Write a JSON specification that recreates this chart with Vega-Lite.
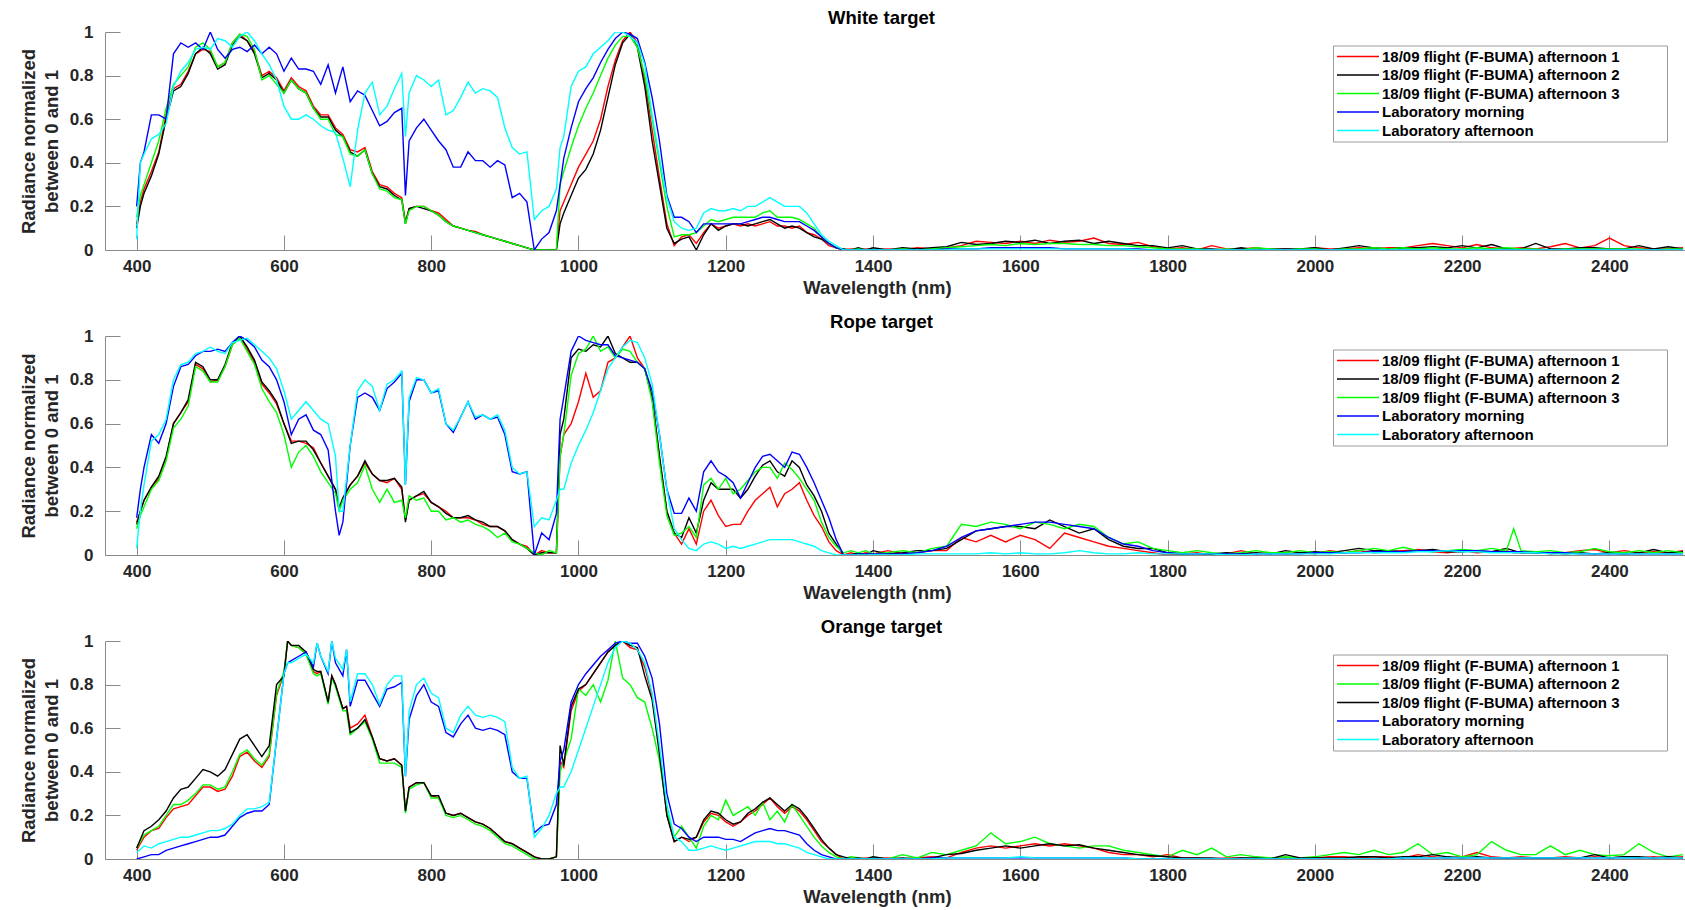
{
"$schema":"https://vega.github.io/schema/vega-lite/v6.json",
"background":"white",
"padding":{"left":19,"top":8,"right":0,"bottom":2},
"bounds":"flush",
"spacing":86,
"resolve":{"scale":{"color":"independent","x":"independent","y":"independent"},"legend":{"color":"independent"}},
"config":{
"font":"Liberation Sans",
"view":{"stroke":null},
"title":{"fontSize":18.5,"fontWeight":"bold","color":"#000000","font":"Liberation Sans","offset":-4,"dx":-14},
"axis":{"grid":false,"domainColor":"#8a8a8a","domainWidth":1,"tickColor":"#8a8a8a","tickSize":-15,"tickWidth":1,
"labelFont":"Liberation Sans","labelFontSize":17,"labelFontWeight":"bold","labelColor":"#262626",
"titleFont":"Liberation Sans","titleFontSize":18.5,"titleFontWeight":"bold","titleColor":"#262626"},
"axisX":{"labelPadding":23,"titlePadding":4,"format":"d"},
"axisY":{"labelPadding":27,"titlePadding":8,"titleLineHeight":23},
"legend":{"orient":"none","legendX":1228,"legendY":13.5,"title":null,"symbolType":"M-1,0H5","symbolSize":196,"symbolStrokeWidth":1.5,
"labelFont":"Liberation Sans","labelFontSize":15,"labelFontWeight":"bold","labelColor":"#000000","labelLimit":600,"labelOffset":30,
"rowPadding":2.5,"padding":3,"strokeColor":"#9a9a9a","fillColor":"#ffffff","cornerRadius":0}
},
"datasets":{
"white":[
{"x":400,"a":0.12,"b":0.1,"c":0.15,"m":0.2,"l":0.05},
{"x":405,"a":0.22,"b":0.2,"c":0.25,"m":0.4,"l":0.4},
{"x":410,"a":0.28,"b":0.26,"c":0.3,"m":0.45,"l":0.44},
{"x":420,"a":0.36,"b":0.34,"c":0.4,"m":0.62,"l":0.51},
{"x":430,"a":0.45,"b":0.44,"c":0.5,"m":0.62,"l":0.53},
{"x":440,"a":0.62,"b":0.6,"c":0.65,"m":0.6,"l":0.58},
{"x":450,"a":0.74,"b":0.73,"c":0.76,"m":0.9,"l":0.75},
{"x":460,"a":0.76,"b":0.75,"c":0.8,"m":0.95,"l":0.82},
{"x":470,"a":0.82,"b":0.81,"c":0.84,"m":0.93,"l":0.86},
{"x":480,"a":0.9,"b":0.9,"c":0.93,"m":0.95,"l":0.92},
{"x":490,"a":0.92,"b":0.93,"c":0.95,"m":0.92,"l":0.93},
{"x":500,"a":0.91,"b":0.9,"c":0.92,"m":1.0,"l":0.92},
{"x":510,"a":0.84,"b":0.83,"c":0.84,"m":0.92,"l":0.97},
{"x":520,"a":0.86,"b":0.85,"c":0.86,"m":0.88,"l":0.96},
{"x":530,"a":0.95,"b":0.94,"c":0.95,"m":0.92,"l":0.93},
{"x":540,"a":0.99,"b":0.98,"c":0.99,"m":0.93,"l":0.98},
{"x":550,"a":0.96,"b":0.96,"c":0.98,"m":0.91,"l":1.0},
{"x":560,"a":0.91,"b":0.9,"c":0.92,"m":0.94,"l":0.96},
{"x":570,"a":0.8,"b":0.79,"c":0.78,"m":0.9,"l":0.9},
{"x":580,"a":0.82,"b":0.81,"c":0.8,"m":0.93,"l":0.85},
{"x":590,"a":0.79,"b":0.78,"c":0.76,"m":0.9,"l":0.78},
{"x":600,"a":0.73,"b":0.72,"c":0.72,"m":0.82,"l":0.66},
{"x":610,"a":0.79,"b":0.78,"c":0.78,"m":0.88,"l":0.6},
{"x":620,"a":0.75,"b":0.74,"c":0.74,"m":0.83,"l":0.6},
{"x":630,"a":0.73,"b":0.72,"c":0.72,"m":0.83,"l":0.62},
{"x":640,"a":0.66,"b":0.65,"c":0.65,"m":0.82,"l":0.6},
{"x":650,"a":0.62,"b":0.61,"c":0.6,"m":0.76,"l":0.57},
{"x":660,"a":0.62,"b":0.61,"c":0.6,"m":0.85,"l":0.55},
{"x":670,"a":0.56,"b":0.55,"c":0.53,"m":0.72,"l":0.54},
{"x":680,"a":0.53,"b":0.52,"c":0.52,"m":0.84,"l":0.42},
{"x":690,"a":0.46,"b":0.45,"c":0.44,"m":0.68,"l":0.29},
{"x":700,"a":0.45,"b":0.43,"c":0.43,"m":0.73,"l":0.55},
{"x":710,"a":0.47,"b":0.46,"c":0.46,"m":0.71,"l":0.72},
{"x":720,"a":0.36,"b":0.35,"c":0.35,"m":0.64,"l":0.77},
{"x":730,"a":0.3,"b":0.29,"c":0.28,"m":0.57,"l":0.62},
{"x":740,"a":0.29,"b":0.28,"c":0.27,"m":0.59,"l":0.66},
{"x":750,"a":0.26,"b":0.25,"c":0.24,"m":0.63,"l":0.74},
{"x":760,"a":0.24,"b":0.23,"c":0.23,"m":0.65,"l":0.81},
{"x":765,"a":0.13,"b":0.12,"c":0.12,"m":0.25,"l":0.52},
{"x":770,"a":0.19,"b":0.19,"c":0.18,"m":0.5,"l":0.72},
{"x":780,"a":0.2,"b":0.2,"c":0.2,"m":0.56,"l":0.8},
{"x":790,"a":0.2,"b":0.19,"c":0.2,"m":0.6,"l":0.78},
{"x":800,"a":0.18,"b":0.18,"c":0.18,"m":0.55,"l":0.75},
{"x":810,"a":0.17,"b":0.16,"c":0.16,"m":0.5,"l":0.78},
{"x":820,"a":0.14,"b":0.13,"c":0.13,"m":0.46,"l":0.62},
{"x":830,"a":0.11,"b":0.11,"c":0.11,"m":0.38,"l":0.64},
{"x":840,"a":0.1,"b":0.1,"c":0.1,"m":0.38,"l":0.7},
{"x":850,"a":0.09,"b":0.09,"c":0.09,"m":0.45,"l":0.77},
{"x":860,"a":0.085,"b":0.08,"c":0.08,"m":0.41,"l":0.72},
{"x":870,"a":0.07,"b":0.07,"c":0.07,"m":0.41,"l":0.74},
{"x":880,"a":0.06,"b":0.06,"c":0.06,"m":0.38,"l":0.73},
{"x":890,"a":0.05,"b":0.05,"c":0.05,"m":0.41,"l":0.7},
{"x":900,"a":0.04,"b":0.04,"c":0.04,"m":0.39,"l":0.56},
{"x":910,"a":0.03,"b":0.03,"c":0.03,"m":0.24,"l":0.47},
{"x":920,"a":0.02,"b":0.02,"c":0.02,"m":0.26,"l":0.44},
{"x":930,"a":0.01,"b":0.01,"c":0.01,"m":0.22,"l":0.45},
{"x":940,"a":0.0,"b":0.0,"c":0.0,"m":0.0,"l":0.14},
{"x":950,"a":0.0,"b":0.0,"c":0.0,"m":0.05,"l":0.18},
{"x":960,"a":0.0,"b":0.0,"c":0.0,"m":0.08,"l":0.2},
{"x":970,"a":0.0,"b":0.0,"c":0.0,"m":0.18,"l":0.28},
{"x":975,"a":0.18,"b":0.12,"c":0.3,"m":0.3,"l":0.47},
{"x":980,"a":0.22,"b":0.17,"c":0.36,"m":0.42,"l":0.52},
{"x":990,"a":0.3,"b":0.25,"c":0.47,"m":0.56,"l":0.75},
{"x":1000,"a":0.38,"b":0.33,"c":0.57,"m":0.68,"l":0.82},
{"x":1010,"a":0.44,"b":0.37,"c":0.65,"m":0.74,"l":0.84},
{"x":1020,"a":0.5,"b":0.44,"c":0.72,"m":0.79,"l":0.9},
{"x":1030,"a":0.6,"b":0.55,"c":0.8,"m":0.86,"l":0.93},
{"x":1040,"a":0.75,"b":0.7,"c":0.88,"m":0.92,"l":0.96},
{"x":1050,"a":0.87,"b":0.85,"c":0.94,"m":0.97,"l":1.0},
{"x":1060,"a":0.96,"b":0.95,"c":0.98,"m":1.0,"l":1.0},
{"x":1070,"a":1.0,"b":0.99,"c":0.98,"m":0.99,"l":0.98},
{"x":1080,"a":0.95,"b":0.93,"c":0.93,"m":0.97,"l":0.95},
{"x":1090,"a":0.78,"b":0.75,"c":0.8,"m":0.86,"l":0.85},
{"x":1100,"a":0.55,"b":0.5,"c":0.6,"m":0.7,"l":0.62},
{"x":1110,"a":0.33,"b":0.3,"c":0.4,"m":0.5,"l":0.42},
{"x":1120,"a":0.12,"b":0.1,"c":0.2,"m":0.25,"l":0.24},
{"x":1130,"a":0.02,"b":0.03,"c":0.06,"m":0.15,"l":0.13},
{"x":1140,"a":0.06,"b":0.05,"c":0.07,"m":0.15,"l":0.1},
{"x":1150,"a":0.07,"b":0.06,"c":0.07,"m":0.13,"l":0.09},
{"x":1160,"a":0.03,"b":0.0,"c":0.08,"m":0.08,"l":0.1},
{"x":1170,"a":0.08,"b":0.07,"c":0.11,"m":0.12,"l":0.17},
{"x":1180,"a":0.12,"b":0.12,"c":0.14,"m":0.12,"l":0.19},
{"x":1190,"a":0.1,"b":0.09,"c":0.13,"m":0.12,"l":0.18},
{"x":1200,"a":0.11,"b":0.11,"c":0.14,"m":0.12,"l":0.18},
{"x":1210,"a":0.12,"b":0.12,"c":0.15,"m":0.12,"l":0.19},
{"x":1220,"a":0.11,"b":0.12,"c":0.15,"m":0.12,"l":0.18},
{"x":1230,"a":0.12,"b":0.11,"c":0.15,"m":0.13,"l":0.2},
{"x":1240,"a":0.11,"b":0.12,"c":0.15,"m":0.14,"l":0.2},
{"x":1250,"a":0.12,"b":0.13,"c":0.17,"m":0.15,"l":0.22},
{"x":1260,"a":0.13,"b":0.14,"c":0.18,"m":0.15,"l":0.24},
{"x":1270,"a":0.11,"b":0.12,"c":0.15,"m":0.14,"l":0.22},
{"x":1280,"a":0.11,"b":0.1,"c":0.15,"m":0.13,"l":0.2},
{"x":1290,"a":0.1,"b":0.11,"c":0.15,"m":0.13,"l":0.2},
{"x":1300,"a":0.11,"b":0.1,"c":0.14,"m":0.13,"l":0.2},
{"x":1310,"a":0.08,"b":0.08,"c":0.12,"m":0.11,"l":0.17},
{"x":1320,"a":0.07,"b":0.06,"c":0.1,"m":0.09,"l":0.12},
{"x":1330,"a":0.05,"b":0.05,"c":0.06,"m":0.06,"l":0.07},
{"x":1340,"a":0.02,"b":0.03,"c":0.03,"m":0.03,"l":0.04},
{"x":1350,"a":0.01,"b":0.01,"c":0.01,"m":0.01,"l":0.02},
{"x":1360,"a":0.0,"b":0.005,"c":0.0,"m":0.0,"l":0.0},
{"x":1370,"a":0.005,"b":0.0,"c":0.0,"m":0.0,"l":0.0},
{"x":1380,"a":0.0,"b":0.01,"c":0.005,"m":0.0,"l":0.0},
{"x":1390,"a":0.005,"b":0.0,"c":0.0,"m":0.0,"l":0.0},
{"x":1400,"a":0.0,"b":0.01,"c":0.0,"m":0.0,"l":0.0},
{"x":1420,"a":0.005,"b":0.0,"c":0.0,"m":0.0,"l":0.0},
{"x":1440,"a":0.0,"b":0.01,"c":0.005,"m":0.0,"l":0.0},
{"x":1460,"a":0.01,"b":0.005,"c":0.0,"m":0.0,"l":0.0},
{"x":1480,"a":0.005,"b":0.01,"c":0.005,"m":0.0,"l":0.0},
{"x":1500,"a":0.01,"b":0.015,"c":0.01,"m":0.005,"l":0.0},
{"x":1520,"a":0.02,"b":0.035,"c":0.015,"m":0.005,"l":0.005},
{"x":1540,"a":0.04,"b":0.025,"c":0.02,"m":0.005,"l":0.005},
{"x":1560,"a":0.035,"b":0.03,"c":0.025,"m":0.01,"l":0.005},
{"x":1580,"a":0.03,"b":0.04,"c":0.02,"m":0.01,"l":0.005},
{"x":1600,"a":0.04,"b":0.035,"c":0.03,"m":0.01,"l":0.005},
{"x":1620,"a":0.03,"b":0.045,"c":0.025,"m":0.01,"l":0.005},
{"x":1640,"a":0.045,"b":0.03,"c":0.03,"m":0.01,"l":0.005},
{"x":1660,"a":0.035,"b":0.04,"c":0.03,"m":0.005,"l":0.005},
{"x":1680,"a":0.04,"b":0.045,"c":0.025,"m":0.005,"l":0.005},
{"x":1700,"a":0.055,"b":0.03,"c":0.025,"m":0.005,"l":0.005},
{"x":1720,"a":0.03,"b":0.04,"c":0.02,"m":0.005,"l":0.005},
{"x":1740,"a":0.025,"b":0.03,"c":0.02,"m":0.005,"l":0.005},
{"x":1760,"a":0.035,"b":0.02,"c":0.015,"m":0.005,"l":0.0},
{"x":1780,"a":0.015,"b":0.02,"c":0.01,"m":0.0,"l":0.0},
{"x":1800,"a":0.005,"b":0.01,"c":0.005,"m":0.0,"l":0.0},
{"x":1820,"a":0.01,"b":0.02,"c":0.005,"m":0.0,"l":0.0},
{"x":1840,"a":0.0,"b":0.005,"c":0.005,"m":0.0,"l":0.0},
{"x":1860,"a":0.02,"b":0.005,"c":0.0,"m":0.0,"l":0.0},
{"x":1880,"a":0.005,"b":0.0,"c":0.005,"m":0.0,"l":0.0},
{"x":1900,"a":0.005,"b":0.01,"c":0.0,"m":0.0,"l":0.0},
{"x":1920,"a":0.01,"b":0.0,"c":0.01,"m":0.0,"l":0.0},
{"x":1940,"a":0.0,"b":0.005,"c":0.005,"m":0.0,"l":0.0},
{"x":1960,"a":0.005,"b":0.005,"c":0.0,"m":0.0,"l":0.0},
{"x":1980,"a":0.0,"b":0.005,"c":0.005,"m":0.0,"l":0.0},
{"x":2000,"a":0.01,"b":0.01,"c":0.005,"m":0.0,"l":0.0},
{"x":2020,"a":0.005,"b":0.0,"c":0.0,"m":0.0,"l":0.0},
{"x":2040,"a":0.005,"b":0.01,"c":0.005,"m":0.0,"l":0.0},
{"x":2060,"a":0.01,"b":0.02,"c":0.005,"m":0.0,"l":0.0},
{"x":2080,"a":0.005,"b":0.01,"c":0.01,"m":0.0,"l":0.0},
{"x":2100,"a":0.01,"b":0.005,"c":0.005,"m":0.0,"l":0.0},
{"x":2120,"a":0.01,"b":0.01,"c":0.01,"m":0.0,"l":0.0},
{"x":2140,"a":0.02,"b":0.01,"c":0.005,"m":0.0,"l":0.0},
{"x":2160,"a":0.03,"b":0.015,"c":0.01,"m":0.0,"l":0.0},
{"x":2180,"a":0.02,"b":0.01,"c":0.005,"m":0.0,"l":0.0},
{"x":2200,"a":0.01,"b":0.02,"c":0.005,"m":0.0,"l":0.0},
{"x":2220,"a":0.025,"b":0.01,"c":0.01,"m":0.0,"l":0.0},
{"x":2240,"a":0.01,"b":0.025,"c":0.005,"m":0.0,"l":0.0},
{"x":2260,"a":0.005,"b":0.005,"c":0.01,"m":0.0,"l":0.0},
{"x":2280,"a":0.01,"b":0.005,"c":0.005,"m":0.0,"l":0.0},
{"x":2300,"a":0.005,"b":0.03,"c":0.005,"m":0.0,"l":0.0},
{"x":2320,"a":0.015,"b":0.005,"c":0.0,"m":0.0,"l":0.0},
{"x":2340,"a":0.03,"b":0.005,"c":0.005,"m":0.0,"l":0.0},
{"x":2360,"a":0.01,"b":0.01,"c":0.005,"m":0.0,"l":0.0},
{"x":2380,"a":0.02,"b":0.01,"c":0.005,"m":0.0,"l":0.0},
{"x":2400,"a":0.055,"b":0.005,"c":0.005,"m":0.0,"l":0.0},
{"x":2420,"a":0.02,"b":0.005,"c":0.005,"m":0.0,"l":0.0},
{"x":2440,"a":0.01,"b":0.02,"c":0.005,"m":0.0,"l":0.0},
{"x":2460,"a":0.005,"b":0.005,"c":0.0,"m":0.0,"l":0.0},
{"x":2480,"a":0.005,"b":0.015,"c":0.005,"m":0.0,"l":0.0},
{"x":2500,"a":0.01,"b":0.005,"c":0.005,"m":0.0,"l":0.0}
],
"rope":[
{"x":400,"a":0.15,"b":0.14,"c":0.12,"m":0.17,"l":0.03},
{"x":405,"a":0.2,"b":0.2,"c":0.18,"m":0.3,"l":0.2},
{"x":410,"a":0.25,"b":0.25,"c":0.22,"m":0.4,"l":0.32},
{"x":420,"a":0.31,"b":0.31,"c":0.3,"m":0.55,"l":0.52},
{"x":430,"a":0.35,"b":0.36,"c":0.34,"m":0.51,"l":0.55},
{"x":440,"a":0.44,"b":0.45,"c":0.43,"m":0.6,"l":0.62},
{"x":450,"a":0.6,"b":0.6,"c":0.58,"m":0.77,"l":0.8},
{"x":460,"a":0.65,"b":0.65,"c":0.62,"m":0.86,"l":0.87},
{"x":470,"a":0.7,"b":0.71,"c":0.68,"m":0.87,"l":0.88},
{"x":480,"a":0.87,"b":0.88,"c":0.86,"m":0.91,"l":0.92},
{"x":490,"a":0.85,"b":0.86,"c":0.84,"m":0.93,"l":0.93},
{"x":500,"a":0.79,"b":0.8,"c":0.79,"m":0.93,"l":0.95},
{"x":510,"a":0.8,"b":0.8,"c":0.79,"m":0.94,"l":0.93},
{"x":520,"a":0.86,"b":0.87,"c":0.86,"m":0.93,"l":0.92},
{"x":530,"a":0.96,"b":0.97,"c":0.96,"m":0.97,"l":0.97},
{"x":540,"a":1.0,"b":1.0,"c":0.99,"m":1.0,"l":0.98},
{"x":550,"a":0.94,"b":0.95,"c":0.93,"m":0.98,"l":0.99},
{"x":560,"a":0.88,"b":0.89,"c":0.87,"m":0.95,"l":0.96},
{"x":570,"a":0.78,"b":0.79,"c":0.76,"m":0.89,"l":0.93},
{"x":580,"a":0.74,"b":0.75,"c":0.7,"m":0.86,"l":0.9},
{"x":590,"a":0.69,"b":0.7,"c":0.65,"m":0.8,"l":0.85},
{"x":600,"a":0.6,"b":0.6,"c":0.55,"m":0.7,"l":0.75},
{"x":610,"a":0.52,"b":0.51,"c":0.4,"m":0.55,"l":0.62},
{"x":620,"a":0.52,"b":0.52,"c":0.47,"m":0.62,"l":0.66},
{"x":630,"a":0.51,"b":0.52,"c":0.5,"m":0.64,"l":0.7},
{"x":640,"a":0.49,"b":0.48,"c":0.45,"m":0.57,"l":0.66},
{"x":650,"a":0.42,"b":0.42,"c":0.38,"m":0.55,"l":0.62},
{"x":660,"a":0.36,"b":0.36,"c":0.33,"m":0.48,"l":0.6},
{"x":670,"a":0.3,"b":0.3,"c":0.28,"m":0.2,"l":0.45},
{"x":675,"a":0.22,"b":0.21,"c":0.2,"m":0.09,"l":0.2},
{"x":680,"a":0.26,"b":0.26,"c":0.25,"m":0.15,"l":0.2},
{"x":690,"a":0.32,"b":0.32,"c":0.3,"m":0.5,"l":0.5},
{"x":700,"a":0.36,"b":0.36,"c":0.33,"m":0.72,"l":0.75},
{"x":710,"a":0.42,"b":0.43,"c":0.41,"m":0.74,"l":0.8},
{"x":720,"a":0.37,"b":0.37,"c":0.3,"m":0.72,"l":0.77},
{"x":730,"a":0.34,"b":0.34,"c":0.24,"m":0.66,"l":0.66},
{"x":740,"a":0.33,"b":0.34,"c":0.3,"m":0.76,"l":0.78},
{"x":750,"a":0.35,"b":0.35,"c":0.24,"m":0.79,"l":0.8},
{"x":760,"a":0.3,"b":0.31,"c":0.25,"m":0.83,"l":0.84},
{"x":765,"a":0.16,"b":0.15,"c":0.17,"m":0.32,"l":0.32},
{"x":770,"a":0.25,"b":0.25,"c":0.27,"m":0.7,"l":0.72},
{"x":780,"a":0.27,"b":0.27,"c":0.25,"m":0.8,"l":0.81},
{"x":790,"a":0.28,"b":0.29,"c":0.26,"m":0.8,"l":0.8},
{"x":800,"a":0.24,"b":0.24,"c":0.2,"m":0.74,"l":0.74},
{"x":810,"a":0.22,"b":0.22,"c":0.2,"m":0.75,"l":0.76},
{"x":820,"a":0.2,"b":0.19,"c":0.16,"m":0.6,"l":0.6},
{"x":830,"a":0.17,"b":0.17,"c":0.17,"m":0.56,"l":0.57},
{"x":840,"a":0.17,"b":0.17,"c":0.15,"m":0.63,"l":0.63},
{"x":850,"a":0.17,"b":0.18,"c":0.16,"m":0.7,"l":0.7},
{"x":860,"a":0.16,"b":0.16,"c":0.14,"m":0.62,"l":0.63},
{"x":870,"a":0.14,"b":0.15,"c":0.13,"m":0.64,"l":0.64},
{"x":880,"a":0.13,"b":0.13,"c":0.11,"m":0.62,"l":0.62},
{"x":890,"a":0.13,"b":0.13,"c":0.08,"m":0.63,"l":0.64},
{"x":900,"a":0.11,"b":0.11,"c":0.1,"m":0.55,"l":0.57},
{"x":910,"a":0.07,"b":0.07,"c":0.06,"m":0.38,"l":0.4},
{"x":920,"a":0.05,"b":0.05,"c":0.05,"m":0.37,"l":0.37},
{"x":930,"a":0.04,"b":0.03,"c":0.03,"m":0.38,"l":0.38},
{"x":940,"a":0.0,"b":0.0,"c":0.01,"m":0.0,"l":0.13},
{"x":950,"a":0.02,"b":0.01,"c":0.0,"m":0.1,"l":0.17},
{"x":960,"a":0.01,"b":0.01,"c":0.02,"m":0.07,"l":0.16},
{"x":970,"a":0.01,"b":0.01,"c":0.01,"m":0.19,"l":0.25},
{"x":975,"a":0.45,"b":0.55,"c":0.45,"m":0.62,"l":0.3},
{"x":980,"a":0.55,"b":0.62,"c":0.55,"m":0.72,"l":0.3},
{"x":990,"a":0.6,"b":0.9,"c":0.82,"m":0.93,"l":0.42},
{"x":1000,"a":0.7,"b":0.94,"c":0.92,"m":1.0,"l":0.5},
{"x":1010,"a":0.83,"b":0.93,"c":0.94,"m":0.98,"l":0.57},
{"x":1020,"a":0.72,"b":0.96,"c":1.0,"m":0.97,"l":0.65},
{"x":1030,"a":0.75,"b":0.95,"c":0.93,"m":0.96,"l":0.75},
{"x":1040,"a":0.88,"b":1.0,"c":0.95,"m":0.96,"l":0.85},
{"x":1050,"a":0.9,"b":0.92,"c":0.9,"m":0.91,"l":0.9},
{"x":1060,"a":0.95,"b":0.9,"c":0.94,"m":0.9,"l":0.95},
{"x":1070,"a":1.0,"b":0.88,"c":0.93,"m":0.89,"l":0.98},
{"x":1080,"a":0.9,"b":0.88,"c":0.88,"m":0.88,"l":0.97},
{"x":1090,"a":0.85,"b":0.85,"c":0.85,"m":0.85,"l":0.9},
{"x":1100,"a":0.72,"b":0.72,"c":0.7,"m":0.75,"l":0.78},
{"x":1110,"a":0.45,"b":0.45,"c":0.42,"m":0.55,"l":0.55},
{"x":1120,"a":0.2,"b":0.2,"c":0.18,"m":0.3,"l":0.3},
{"x":1130,"a":0.1,"b":0.1,"c":0.09,"m":0.19,"l":0.12},
{"x":1140,"a":0.05,"b":0.08,"c":0.1,"m":0.19,"l":0.07},
{"x":1150,"a":0.12,"b":0.17,"c":0.13,"m":0.26,"l":0.03},
{"x":1160,"a":0.05,"b":0.1,"c":0.08,"m":0.2,"l":0.02},
{"x":1170,"a":0.2,"b":0.25,"c":0.32,"m":0.38,"l":0.05},
{"x":1180,"a":0.25,"b":0.33,"c":0.35,"m":0.43,"l":0.06},
{"x":1190,"a":0.18,"b":0.3,"c":0.3,"m":0.38,"l":0.05},
{"x":1200,"a":0.13,"b":0.3,"c":0.35,"m":0.36,"l":0.03},
{"x":1210,"a":0.14,"b":0.3,"c":0.28,"m":0.33,"l":0.04},
{"x":1220,"a":0.14,"b":0.26,"c":0.3,"m":0.26,"l":0.03},
{"x":1230,"a":0.2,"b":0.3,"c":0.34,"m":0.33,"l":0.04},
{"x":1240,"a":0.25,"b":0.36,"c":0.38,"m":0.4,"l":0.05},
{"x":1250,"a":0.28,"b":0.41,"c":0.4,"m":0.45,"l":0.06},
{"x":1260,"a":0.31,"b":0.43,"c":0.4,"m":0.46,"l":0.07},
{"x":1270,"a":0.22,"b":0.38,"c":0.35,"m":0.43,"l":0.07},
{"x":1280,"a":0.28,"b":0.36,"c":0.42,"m":0.4,"l":0.07},
{"x":1290,"a":0.3,"b":0.43,"c":0.39,"m":0.47,"l":0.07},
{"x":1300,"a":0.33,"b":0.4,"c":0.35,"m":0.46,"l":0.06},
{"x":1310,"a":0.25,"b":0.32,"c":0.3,"m":0.4,"l":0.05},
{"x":1320,"a":0.18,"b":0.27,"c":0.25,"m":0.33,"l":0.04},
{"x":1330,"a":0.13,"b":0.2,"c":0.15,"m":0.25,"l":0.02},
{"x":1340,"a":0.06,"b":0.1,"c":0.08,"m":0.17,"l":0.01},
{"x":1350,"a":0.02,"b":0.05,"c":0.04,"m":0.07,"l":0.0},
{"x":1360,"a":0.0,"b":0.0,"c":0.01,"m":0.0,"l":0.0},
{"x":1370,"a":0.01,"b":0.0,"c":0.02,"m":0.0,"l":0.0},
{"x":1380,"a":0.0,"b":0.01,"c":0.01,"m":0.005,"l":0.0},
{"x":1390,"a":0.01,"b":0.0,"c":0.02,"m":0.005,"l":0.0},
{"x":1400,"a":0.005,"b":0.02,"c":0.005,"m":0.005,"l":0.0},
{"x":1420,"a":0.02,"b":0.005,"c":0.01,"m":0.005,"l":0.0},
{"x":1440,"a":0.005,"b":0.01,"c":0.02,"m":0.005,"l":0.0},
{"x":1460,"a":0.01,"b":0.02,"c":0.01,"m":0.01,"l":0.005},
{"x":1480,"a":0.02,"b":0.02,"c":0.03,"m":0.02,"l":0.005},
{"x":1500,"a":0.02,"b":0.03,"c":0.04,"m":0.04,"l":0.005},
{"x":1520,"a":0.08,"b":0.07,"c":0.14,"m":0.08,"l":0.005},
{"x":1540,"a":0.06,"b":0.11,"c":0.13,"m":0.11,"l":0.005},
{"x":1560,"a":0.09,"b":0.12,"c":0.15,"m":0.12,"l":0.01},
{"x":1580,"a":0.06,"b":0.13,"c":0.14,"m":0.13,"l":0.005},
{"x":1600,"a":0.09,"b":0.13,"c":0.12,"m":0.14,"l":0.01},
{"x":1620,"a":0.07,"b":0.12,"c":0.15,"m":0.15,"l":0.005},
{"x":1640,"a":0.03,"b":0.16,"c":0.14,"m":0.15,"l":0.005},
{"x":1660,"a":0.1,"b":0.13,"c":0.12,"m":0.14,"l":0.01},
{"x":1680,"a":0.08,"b":0.1,"c":0.14,"m":0.13,"l":0.02},
{"x":1700,"a":0.06,"b":0.12,"c":0.13,"m":0.12,"l":0.01},
{"x":1720,"a":0.04,"b":0.07,"c":0.08,"m":0.08,"l":0.005},
{"x":1740,"a":0.03,"b":0.04,"c":0.05,"m":0.05,"l":0.005},
{"x":1760,"a":0.02,"b":0.03,"c":0.06,"m":0.04,"l":0.01},
{"x":1780,"a":0.01,"b":0.03,"c":0.03,"m":0.02,"l":0.005},
{"x":1800,"a":0.0,"b":0.01,"c":0.02,"m":0.01,"l":0.005},
{"x":1820,"a":0.005,"b":0.005,"c":0.01,"m":0.005,"l":0.005},
{"x":1840,"a":0.01,"b":0.005,"c":0.02,"m":0.005,"l":0.005},
{"x":1860,"a":0.0,"b":0.005,"c":0.01,"m":0.005,"l":0.005},
{"x":1880,"a":0.005,"b":0.01,"c":0.005,"m":0.005,"l":0.0},
{"x":1900,"a":0.02,"b":0.005,"c":0.01,"m":0.005,"l":0.0},
{"x":1920,"a":0.005,"b":0.01,"c":0.02,"m":0.005,"l":0.005},
{"x":1940,"a":0.01,"b":0.005,"c":0.01,"m":0.005,"l":0.005},
{"x":1960,"a":0.005,"b":0.02,"c":0.01,"m":0.005,"l":0.005},
{"x":1980,"a":0.01,"b":0.01,"c":0.02,"m":0.005,"l":0.005},
{"x":2000,"a":0.005,"b":0.015,"c":0.01,"m":0.01,"l":0.005},
{"x":2020,"a":0.02,"b":0.01,"c":0.015,"m":0.01,"l":0.005},
{"x":2040,"a":0.01,"b":0.02,"c":0.01,"m":0.01,"l":0.01},
{"x":2060,"a":0.02,"b":0.03,"c":0.02,"m":0.01,"l":0.01},
{"x":2080,"a":0.01,"b":0.02,"c":0.03,"m":0.015,"l":0.01},
{"x":2100,"a":0.015,"b":0.02,"c":0.02,"m":0.015,"l":0.01},
{"x":2120,"a":0.02,"b":0.015,"c":0.035,"m":0.015,"l":0.01},
{"x":2140,"a":0.025,"b":0.02,"c":0.02,"m":0.02,"l":0.015},
{"x":2160,"a":0.015,"b":0.025,"c":0.015,"m":0.02,"l":0.015},
{"x":2180,"a":0.01,"b":0.015,"c":0.02,"m":0.02,"l":0.02},
{"x":2200,"a":0.02,"b":0.015,"c":0.025,"m":0.02,"l":0.015},
{"x":2220,"a":0.01,"b":0.02,"c":0.02,"m":0.02,"l":0.015},
{"x":2240,"a":0.015,"b":0.015,"c":0.03,"m":0.015,"l":0.01},
{"x":2260,"a":0.02,"b":0.03,"c":0.02,"m":0.015,"l":0.01},
{"x":2270,"a":0.01,"b":0.02,"c":0.12,"m":0.015,"l":0.01},
{"x":2280,"a":0.01,"b":0.01,"c":0.02,"m":0.015,"l":0.01},
{"x":2300,"a":0.015,"b":0.01,"c":0.015,"m":0.01,"l":0.01},
{"x":2320,"a":0.005,"b":0.01,"c":0.02,"m":0.01,"l":0.005},
{"x":2340,"a":0.01,"b":0.005,"c":0.01,"m":0.01,"l":0.005},
{"x":2360,"a":0.02,"b":0.01,"c":0.015,"m":0.005,"l":0.005},
{"x":2380,"a":0.025,"b":0.005,"c":0.03,"m":0.005,"l":0.005},
{"x":2400,"a":0.01,"b":0.01,"c":0.015,"m":0.005,"l":0.005},
{"x":2420,"a":0.02,"b":0.005,"c":0.01,"m":0.005,"l":0.005},
{"x":2440,"a":0.01,"b":0.01,"c":0.02,"m":0.005,"l":0.005},
{"x":2460,"a":0.015,"b":0.025,"c":0.01,"m":0.005,"l":0.005},
{"x":2480,"a":0.01,"b":0.01,"c":0.02,"m":0.005,"l":0.005},
{"x":2500,"a":0.02,"b":0.015,"c":0.01,"m":0.005,"l":0.005}
],
"orange":[
{"x":400,"a":0.04,"b":0.05,"c":0.05,"m":0.0,"l":0.03},
{"x":410,"a":0.1,"b":0.11,"c":0.13,"m":0.01,"l":0.06},
{"x":420,"a":0.13,"b":0.13,"c":0.15,"m":0.02,"l":0.05},
{"x":430,"a":0.14,"b":0.15,"c":0.18,"m":0.02,"l":0.07},
{"x":440,"a":0.19,"b":0.2,"c":0.22,"m":0.04,"l":0.08},
{"x":450,"a":0.23,"b":0.25,"c":0.28,"m":0.05,"l":0.09},
{"x":460,"a":0.24,"b":0.25,"c":0.32,"m":0.06,"l":0.1},
{"x":470,"a":0.25,"b":0.27,"c":0.33,"m":0.07,"l":0.1},
{"x":480,"a":0.29,"b":0.3,"c":0.37,"m":0.08,"l":0.11},
{"x":490,"a":0.33,"b":0.34,"c":0.41,"m":0.09,"l":0.12},
{"x":500,"a":0.33,"b":0.34,"c":0.4,"m":0.1,"l":0.13},
{"x":510,"a":0.31,"b":0.32,"c":0.38,"m":0.1,"l":0.13},
{"x":520,"a":0.32,"b":0.33,"c":0.41,"m":0.11,"l":0.14},
{"x":530,"a":0.38,"b":0.4,"c":0.48,"m":0.15,"l":0.16},
{"x":540,"a":0.47,"b":0.48,"c":0.55,"m":0.19,"l":0.2},
{"x":550,"a":0.49,"b":0.5,"c":0.57,"m":0.21,"l":0.23},
{"x":560,"a":0.45,"b":0.46,"c":0.52,"m":0.22,"l":0.23},
{"x":570,"a":0.42,"b":0.43,"c":0.47,"m":0.22,"l":0.24},
{"x":580,"a":0.47,"b":0.48,"c":0.52,"m":0.25,"l":0.26},
{"x":590,"a":0.75,"b":0.76,"c":0.8,"m":0.55,"l":0.55},
{"x":600,"a":0.85,"b":0.86,"c":0.84,"m":0.85,"l":0.85},
{"x":605,"a":1.0,"b":1.0,"c":1.0,"m":0.9,"l":0.9},
{"x":610,"a":0.98,"b":0.98,"c":0.98,"m":0.91,"l":0.9},
{"x":620,"a":0.97,"b":0.97,"c":0.98,"m":0.93,"l":0.92},
{"x":630,"a":0.94,"b":0.94,"c":0.95,"m":0.95,"l":0.94},
{"x":640,"a":0.86,"b":0.85,"c":0.87,"m":0.88,"l":0.9},
{"x":645,"a":0.85,"b":0.84,"c":0.86,"m":0.99,"l":0.99},
{"x":650,"a":0.86,"b":0.85,"c":0.86,"m":0.93,"l":0.93},
{"x":660,"a":0.72,"b":0.71,"c":0.72,"m":0.85,"l":0.86},
{"x":665,"a":0.84,"b":0.83,"c":0.84,"m":1.0,"l":1.0},
{"x":670,"a":0.8,"b":0.79,"c":0.8,"m":0.9,"l":0.92},
{"x":680,"a":0.69,"b":0.68,"c":0.69,"m":0.84,"l":0.87},
{"x":685,"a":0.7,"b":0.68,"c":0.7,"m":0.96,"l":0.96},
{"x":690,"a":0.6,"b":0.57,"c":0.58,"m":0.7,"l":0.72},
{"x":700,"a":0.62,"b":0.6,"c":0.6,"m":0.82,"l":0.85},
{"x":710,"a":0.66,"b":0.63,"c":0.64,"m":0.82,"l":0.85},
{"x":720,"a":0.56,"b":0.55,"c":0.56,"m":0.76,"l":0.8},
{"x":730,"a":0.46,"b":0.44,"c":0.46,"m":0.7,"l":0.71},
{"x":740,"a":0.45,"b":0.44,"c":0.45,"m":0.78,"l":0.8},
{"x":750,"a":0.46,"b":0.44,"c":0.46,"m":0.79,"l":0.84},
{"x":760,"a":0.43,"b":0.42,"c":0.43,"m":0.81,"l":0.84},
{"x":765,"a":0.22,"b":0.21,"c":0.22,"m":0.38,"l":0.38},
{"x":770,"a":0.33,"b":0.32,"c":0.33,"m":0.64,"l":0.68},
{"x":780,"a":0.35,"b":0.34,"c":0.35,"m":0.75,"l":0.8},
{"x":790,"a":0.35,"b":0.35,"c":0.35,"m":0.8,"l":0.83},
{"x":800,"a":0.29,"b":0.28,"c":0.29,"m":0.72,"l":0.76},
{"x":810,"a":0.28,"b":0.28,"c":0.29,"m":0.7,"l":0.74},
{"x":820,"a":0.21,"b":0.2,"c":0.21,"m":0.58,"l":0.6},
{"x":830,"a":0.2,"b":0.19,"c":0.2,"m":0.56,"l":0.58},
{"x":840,"a":0.21,"b":0.2,"c":0.21,"m":0.62,"l":0.66},
{"x":850,"a":0.19,"b":0.18,"c":0.19,"m":0.66,"l":0.7},
{"x":860,"a":0.17,"b":0.16,"c":0.17,"m":0.6,"l":0.66},
{"x":870,"a":0.16,"b":0.15,"c":0.16,"m":0.59,"l":0.65},
{"x":880,"a":0.14,"b":0.13,"c":0.14,"m":0.6,"l":0.66},
{"x":890,"a":0.11,"b":0.1,"c":0.11,"m":0.59,"l":0.65},
{"x":900,"a":0.08,"b":0.07,"c":0.08,"m":0.57,"l":0.63},
{"x":910,"a":0.07,"b":0.06,"c":0.07,"m":0.4,"l":0.42},
{"x":920,"a":0.05,"b":0.04,"c":0.05,"m":0.37,"l":0.37},
{"x":930,"a":0.03,"b":0.02,"c":0.03,"m":0.37,"l":0.38},
{"x":940,"a":0.01,"b":0.0,"c":0.01,"m":0.12,"l":0.1},
{"x":950,"a":0.0,"b":0.0,"c":0.0,"m":0.15,"l":0.14},
{"x":960,"a":0.0,"b":0.0,"c":0.0,"m":0.16,"l":0.2},
{"x":970,"a":0.01,"b":0.01,"c":0.01,"m":0.25,"l":0.3},
{"x":975,"a":0.45,"b":0.4,"c":0.52,"m":0.45,"l":0.33},
{"x":980,"a":0.42,"b":0.45,"c":0.43,"m":0.5,"l":0.33},
{"x":990,"a":0.68,"b":0.55,"c":0.7,"m":0.72,"l":0.4},
{"x":1000,"a":0.77,"b":0.78,"c":0.78,"m":0.8,"l":0.5},
{"x":1010,"a":0.8,"b":0.75,"c":0.8,"m":0.85,"l":0.6},
{"x":1020,"a":0.85,"b":0.8,"c":0.85,"m":0.89,"l":0.7},
{"x":1030,"a":0.9,"b":0.72,"c":0.9,"m":0.93,"l":0.8},
{"x":1040,"a":0.95,"b":0.82,"c":0.95,"m":0.96,"l":0.9},
{"x":1050,"a":0.98,"b":1.0,"c":0.98,"m":0.99,"l":0.97},
{"x":1060,"a":1.0,"b":0.83,"c":1.0,"m":1.0,"l":1.0},
{"x":1070,"a":0.97,"b":0.8,"c":0.98,"m":0.99,"l":0.99},
{"x":1080,"a":0.96,"b":0.74,"c":0.97,"m":0.99,"l":0.96},
{"x":1090,"a":0.88,"b":0.72,"c":0.84,"m":0.93,"l":0.9},
{"x":1100,"a":0.75,"b":0.6,"c":0.73,"m":0.83,"l":0.76},
{"x":1110,"a":0.5,"b":0.45,"c":0.48,"m":0.62,"l":0.52},
{"x":1120,"a":0.2,"b":0.22,"c":0.2,"m":0.3,"l":0.25},
{"x":1130,"a":0.08,"b":0.1,"c":0.08,"m":0.16,"l":0.1},
{"x":1140,"a":0.1,"b":0.15,"c":0.1,"m":0.14,"l":0.08},
{"x":1150,"a":0.08,"b":0.1,"c":0.09,"m":0.1,"l":0.04},
{"x":1160,"a":0.1,"b":0.05,"c":0.1,"m":0.08,"l":0.04},
{"x":1170,"a":0.17,"b":0.15,"c":0.18,"m":0.1,"l":0.05},
{"x":1180,"a":0.21,"b":0.2,"c":0.22,"m":0.1,"l":0.06},
{"x":1190,"a":0.2,"b":0.18,"c":0.21,"m":0.1,"l":0.05},
{"x":1200,"a":0.17,"b":0.27,"c":0.18,"m":0.09,"l":0.04},
{"x":1210,"a":0.15,"b":0.2,"c":0.16,"m":0.09,"l":0.05},
{"x":1220,"a":0.17,"b":0.22,"c":0.17,"m":0.08,"l":0.06},
{"x":1230,"a":0.2,"b":0.24,"c":0.21,"m":0.1,"l":0.07},
{"x":1240,"a":0.22,"b":0.2,"c":0.23,"m":0.12,"l":0.08},
{"x":1250,"a":0.25,"b":0.26,"c":0.26,"m":0.13,"l":0.08},
{"x":1260,"a":0.28,"b":0.18,"c":0.28,"m":0.14,"l":0.08},
{"x":1270,"a":0.24,"b":0.22,"c":0.25,"m":0.13,"l":0.07},
{"x":1280,"a":0.21,"b":0.17,"c":0.22,"m":0.13,"l":0.07},
{"x":1290,"a":0.24,"b":0.25,"c":0.25,"m":0.12,"l":0.06},
{"x":1300,"a":0.22,"b":0.2,"c":0.23,"m":0.11,"l":0.05},
{"x":1310,"a":0.18,"b":0.15,"c":0.19,"m":0.07,"l":0.03},
{"x":1320,"a":0.13,"b":0.1,"c":0.14,"m":0.04,"l":0.02},
{"x":1330,"a":0.08,"b":0.06,"c":0.09,"m":0.02,"l":0.01},
{"x":1340,"a":0.05,"b":0.03,"c":0.05,"m":0.01,"l":0.0},
{"x":1350,"a":0.02,"b":0.01,"c":0.02,"m":0.0,"l":0.0},
{"x":1360,"a":0.0,"b":0.0,"c":0.01,"m":0.0,"l":0.0},
{"x":1370,"a":0.005,"b":0.01,"c":0.0,"m":0.0,"l":0.0},
{"x":1380,"a":0.0,"b":0.005,"c":0.005,"m":0.0,"l":0.0},
{"x":1390,"a":0.005,"b":0.0,"c":0.0,"m":0.0,"l":0.0},
{"x":1400,"a":0.0,"b":0.005,"c":0.01,"m":0.0,"l":0.0},
{"x":1420,"a":0.005,"b":0.0,"c":0.0,"m":0.0,"l":0.0},
{"x":1440,"a":0.0,"b":0.02,"c":0.005,"m":0.0,"l":0.0},
{"x":1460,"a":0.005,"b":0.005,"c":0.0,"m":0.0,"l":0.0},
{"x":1480,"a":0.01,"b":0.03,"c":0.005,"m":0.005,"l":0.0},
{"x":1500,"a":0.005,"b":0.02,"c":0.02,"m":0.005,"l":0.005},
{"x":1520,"a":0.03,"b":0.04,"c":0.025,"m":0.005,"l":0.005},
{"x":1540,"a":0.05,"b":0.06,"c":0.04,"m":0.005,"l":0.005},
{"x":1560,"a":0.06,"b":0.12,"c":0.05,"m":0.005,"l":0.005},
{"x":1580,"a":0.05,"b":0.07,"c":0.06,"m":0.005,"l":0.005},
{"x":1600,"a":0.06,"b":0.08,"c":0.05,"m":0.005,"l":0.01},
{"x":1620,"a":0.07,"b":0.1,"c":0.06,"m":0.005,"l":0.005},
{"x":1640,"a":0.06,"b":0.07,"c":0.07,"m":0.005,"l":0.005},
{"x":1660,"a":0.07,"b":0.06,"c":0.06,"m":0.005,"l":0.005},
{"x":1680,"a":0.06,"b":0.05,"c":0.065,"m":0.005,"l":0.005},
{"x":1700,"a":0.05,"b":0.06,"c":0.05,"m":0.005,"l":0.005},
{"x":1720,"a":0.03,"b":0.06,"c":0.04,"m":0.005,"l":0.005},
{"x":1740,"a":0.02,"b":0.04,"c":0.03,"m":0.005,"l":0.005},
{"x":1760,"a":0.02,"b":0.03,"c":0.02,"m":0.0,"l":0.0},
{"x":1780,"a":0.01,"b":0.02,"c":0.015,"m":0.0,"l":0.0},
{"x":1800,"a":0.02,"b":0.01,"c":0.01,"m":0.0,"l":0.0},
{"x":1820,"a":0.005,"b":0.04,"c":0.005,"m":0.0,"l":0.0},
{"x":1840,"a":0.005,"b":0.02,"c":0.005,"m":0.0,"l":0.0},
{"x":1860,"a":0.0,"b":0.05,"c":0.005,"m":0.0,"l":0.0},
{"x":1880,"a":0.005,"b":0.01,"c":0.0,"m":0.0,"l":0.0},
{"x":1900,"a":0.005,"b":0.02,"c":0.005,"m":0.0,"l":0.0},
{"x":1920,"a":0.0,"b":0.01,"c":0.005,"m":0.0,"l":0.0},
{"x":1940,"a":0.005,"b":0.005,"c":0.0,"m":0.0,"l":0.0},
{"x":1960,"a":0.005,"b":0.01,"c":0.02,"m":0.0,"l":0.0},
{"x":1980,"a":0.0,"b":0.005,"c":0.005,"m":0.0,"l":0.0},
{"x":2000,"a":0.005,"b":0.01,"c":0.005,"m":0.0,"l":0.0},
{"x":2020,"a":0.01,"b":0.02,"c":0.005,"m":0.0,"l":0.0},
{"x":2040,"a":0.01,"b":0.03,"c":0.005,"m":0.0,"l":0.0},
{"x":2060,"a":0.005,"b":0.02,"c":0.01,"m":0.0,"l":0.0},
{"x":2080,"a":0.01,"b":0.04,"c":0.01,"m":0.0,"l":0.0},
{"x":2100,"a":0.01,"b":0.02,"c":0.005,"m":0.0,"l":0.0},
{"x":2120,"a":0.005,"b":0.03,"c":0.01,"m":0.005,"l":0.005},
{"x":2140,"a":0.02,"b":0.07,"c":0.01,"m":0.005,"l":0.005},
{"x":2160,"a":0.01,"b":0.02,"c":0.02,"m":0.005,"l":0.005},
{"x":2180,"a":0.005,"b":0.03,"c":0.01,"m":0.005,"l":0.005},
{"x":2200,"a":0.01,"b":0.01,"c":0.005,"m":0.005,"l":0.005},
{"x":2220,"a":0.03,"b":0.02,"c":0.01,"m":0.005,"l":0.005},
{"x":2240,"a":0.01,"b":0.08,"c":0.005,"m":0.005,"l":0.005},
{"x":2260,"a":0.005,"b":0.04,"c":0.005,"m":0.005,"l":0.005},
{"x":2280,"a":0.01,"b":0.02,"c":0.005,"m":0.005,"l":0.005},
{"x":2300,"a":0.005,"b":0.02,"c":0.005,"m":0.005,"l":0.005},
{"x":2320,"a":0.005,"b":0.06,"c":0.005,"m":0.005,"l":0.005},
{"x":2340,"a":0.01,"b":0.02,"c":0.005,"m":0.005,"l":0.005},
{"x":2360,"a":0.005,"b":0.04,"c":0.005,"m":0.005,"l":0.005},
{"x":2380,"a":0.01,"b":0.02,"c":0.02,"m":0.005,"l":0.005},
{"x":2400,"a":0.005,"b":0.015,"c":0.005,"m":0.005,"l":0.005},
{"x":2420,"a":0.01,"b":0.02,"c":0.01,"m":0.005,"l":0.005},
{"x":2440,"a":0.005,"b":0.07,"c":0.01,"m":0.005,"l":0.005},
{"x":2460,"a":0.01,"b":0.03,"c":0.005,"m":0.005,"l":0.005},
{"x":2480,"a":0.005,"b":0.01,"c":0.01,"m":0.005,"l":0.005},
{"x":2500,"a":0.01,"b":0.02,"c":0.005,"m":0.005,"l":0.005}
]
},
"vconcat":[
{"title":{"text":"White target"},"width":1581,"height":218,"data":{"name":"white"},
"transform":[{"fold":["a","b","c","m","l"],"as":["s","v"]}],
"mark":{"type":"line","strokeWidth":1.4,"clip":true},
"encoding":{
"x":{"field":"x","type":"quantitative","scale":{"domain":[357,2504],"nice":false,"zero":false},"axis":{"values":[400,600,800,1000,1200,1400,1600,1800,2000,2200,2400],"title":"Wavelength (nm)","titleX":772}},
"y":{"field":"v","type":"quantitative","scale":{"domain":[0,1],"nice":false},"axis":{"values":[0,0.2,0.4,0.6,0.8,1],"format":"~g","title":["Radiance normalized","between 0 and 1"]}},
"color":{"field":"s","type":"nominal","sort":["a","b","c","m","l"],"scale":{"domain":["a","b","c","m","l"],"range":["#ff0000","#000000","#00ff00","#0000ff","#00ffff"]},
"legend":{"labelExpr":"datum.label=='a'?'18/09 flight (F-BUMA) afternoon 1\u2800\u2800\u2800\u2800':datum.label=='b'?'18/09 flight (F-BUMA) afternoon 2':datum.label=='c'?'18/09 flight (F-BUMA) afternoon 3':datum.label=='m'?'Laboratory morning':'Laboratory afternoon'"}}
}},
{"title":{"text":"Rope target"},"width":1581,"height":219,"data":{"name":"rope"},
"transform":[{"fold":["a","b","c","m","l"],"as":["s","v"]}],
"mark":{"type":"line","strokeWidth":1.4,"clip":true},
"encoding":{
"x":{"field":"x","type":"quantitative","scale":{"domain":[357,2504],"nice":false,"zero":false},"axis":{"values":[400,600,800,1000,1200,1400,1600,1800,2000,2200,2400],"title":"Wavelength (nm)","titleX":772}},
"y":{"field":"v","type":"quantitative","scale":{"domain":[0,1],"nice":false},"axis":{"values":[0,0.2,0.4,0.6,0.8,1],"format":"~g","title":["Radiance normalized","between 0 and 1"]}},
"color":{"field":"s","type":"nominal","sort":["a","b","c","m","l"],"scale":{"domain":["a","b","c","m","l"],"range":["#ff0000","#000000","#00ff00","#0000ff","#00ffff"]},
"legend":{"labelExpr":"datum.label=='a'?'18/09 flight (F-BUMA) afternoon 1\u2800\u2800\u2800\u2800':datum.label=='b'?'18/09 flight (F-BUMA) afternoon 2':datum.label=='c'?'18/09 flight (F-BUMA) afternoon 3':datum.label=='m'?'Laboratory morning':'Laboratory afternoon'"}}
}},
{"title":{"text":"Orange target"},"width":1581,"height":218,"data":{"name":"orange"},
"transform":[{"fold":["a","b","c","m","l"],"as":["s","v"]}],
"mark":{"type":"line","strokeWidth":1.4,"clip":true},
"encoding":{
"x":{"field":"x","type":"quantitative","scale":{"domain":[357,2504],"nice":false,"zero":false},"axis":{"values":[400,600,800,1000,1200,1400,1600,1800,2000,2200,2400],"title":"Wavelength (nm)","titleX":772}},
"y":{"field":"v","type":"quantitative","scale":{"domain":[0,1],"nice":false},"axis":{"values":[0,0.2,0.4,0.6,0.8,1],"format":"~g","title":["Radiance normalized","between 0 and 1"]}},
"color":{"field":"s","type":"nominal","sort":["a","b","c","m","l"],"scale":{"domain":["a","b","c","m","l"],"range":["#ff0000","#00ff00","#000000","#0000ff","#00ffff"]},
"legend":{"labelExpr":"datum.label=='a'?'18/09 flight (F-BUMA) afternoon 1\u2800\u2800\u2800\u2800':datum.label=='b'?'18/09 flight (F-BUMA) afternoon 2':datum.label=='c'?'18/09 flight (F-BUMA) afternoon 3':datum.label=='m'?'Laboratory morning':'Laboratory afternoon'"}}
}}
]
}
